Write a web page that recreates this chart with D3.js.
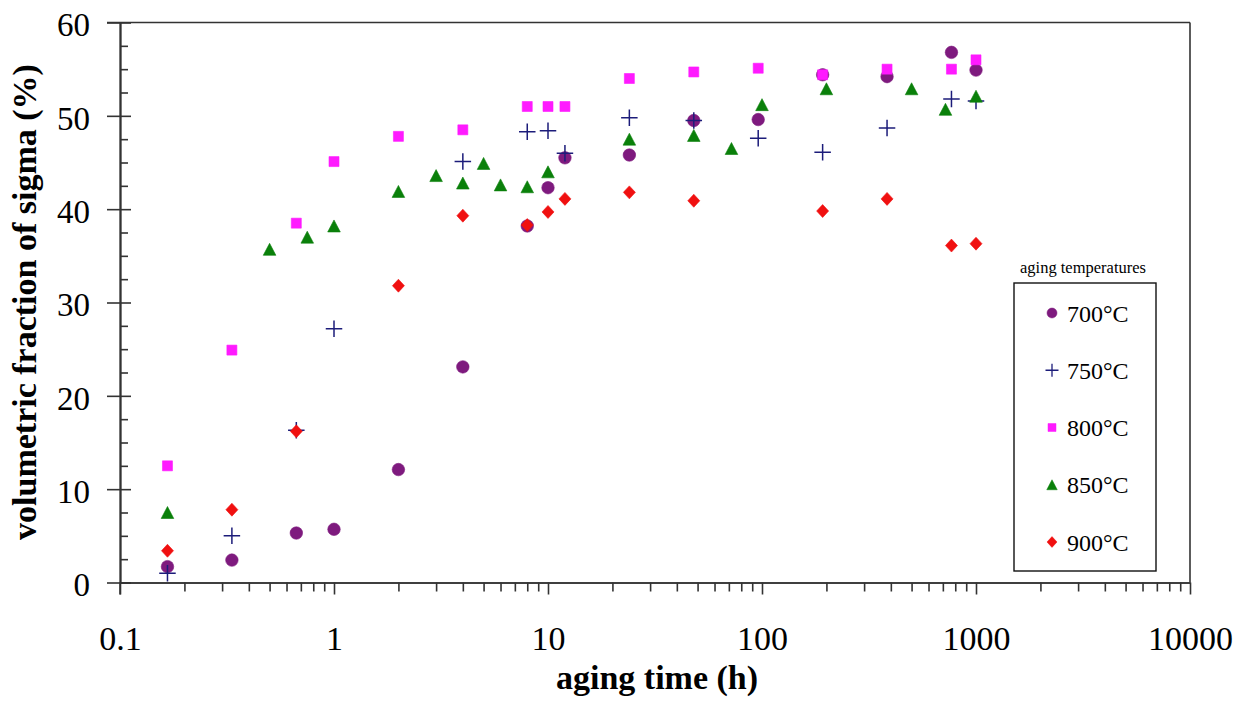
<!DOCTYPE html>
<html>
<head>
<meta charset="utf-8">
<script src="https://cdn.jsdelivr.net/npm/d3@7"></script>
<style>
  html, body { margin: 0; padding: 0; background: #fff; }
  svg { display: block; }
  text { font-family: "Liberation Serif", "Times New Roman", serif; fill: #000; }
</style>
</head>
<body>
<svg id="chart" width="1253" height="704"></svg>
<script>
// ---------- data ----------
const xTickValues = [0.1, 1, 10, 100, 1000, 10000];
const xTickLabels = ["0.1", "1", "10", "100", "1000", "10000"];
const yTickValues = [0, 10, 20, 30, 40, 50, 60];
const yTickLabels = ["0", "10", "20", "30", "40", "50", "60"];

const series700Time  = [1/6, 1/3, 2/3, 1, 2, 4, 8, 10, 12, 24, 48, 96, 192, 384, 768, 1000];
const series700Value = [1.7, 2.4, 5.3, 5.7, 12.1, 23.1, 38.2, 42.3, 45.5, 45.8, 49.5, 49.6, 54.4, 54.2, 56.8, 54.9];

const series750Time  = [1/6, 1/3, 2/3, 1, 4, 8, 10, 12, 24, 48, 96, 192, 384, 768, 1000];
const series750Value = [1.0, 5.0, 16.3, 27.2, 45.1, 48.3, 48.4, 46.0, 49.8, 49.5, 47.6, 46.1, 48.7, 51.8, 51.6];

const series800Time  = [1/6, 1/3, 2/3, 1, 2, 4, 8, 10, 12, 24, 48, 96, 192, 384, 768, 1000];
const series800Value = [12.5, 24.9, 38.5, 45.1, 47.8, 48.5, 51.0, 51.0, 51.0, 54.0, 54.7, 55.1, 54.4, 55.0, 55.0, 56.0];

const series850Time  = [1/6, 0.5, 0.75, 1, 2, 3, 4, 5, 6, 8, 10, 24, 48, 72, 100, 200, 500, 720, 1000];
const series850Value = [7.5, 35.7, 37.0, 38.2, 41.9, 43.6, 42.8, 44.9, 42.6, 42.4, 44.0, 47.5, 47.9, 46.5, 51.2, 52.9, 52.9, 50.7, 52.1];

const series900Time  = [1/6, 1/3, 2/3, 2, 4, 8, 10, 12, 24, 48, 192, 384, 768, 1000];
const series900Value = [3.4, 7.8, 16.2, 31.8, 39.3, 38.3, 39.7, 41.1, 41.8, 40.9, 39.8, 41.1, 36.1, 36.3];

const seriesNames = ["700°C", "750°C", "800°C", "850°C", "900°C"];
const seriesColors = ["#7e1a7e", "#1c1c7a", "#ff1aff", "#0a800a", "#f01010"];

const legendTitle = "aging temperatures";
const xTitle = "aging time (h)";
const yTitle = "volumetric fraction of sigma (%)";

// ---------- setup ----------
const svg = d3.select("#chart");
const pLeft = 120, pRight = 1190, pTop = 22.5, pBottom = 582.5;
const axisColor = "#333";

const x = d3.scaleLog().domain([0.1, 10000]).range([pLeft, pRight]);
const y = d3.scaleLinear().domain([0, 60]).range([pBottom, pTop]);

// ---------- symbols ----------
const plusType = { draw(ctx, size) { const r = Math.sqrt(size) / 2;
  ctx.moveTo(-r, 0); ctx.lineTo(r, 0); ctx.moveTo(0, -r); ctx.lineTo(0, r); } };
const diamondType = { draw(ctx, size) { const r = Math.sqrt(size) / 2;
  ctx.moveTo(0, -r * 1.08); ctx.lineTo(r, 0); ctx.lineTo(0, r * 1.08); ctx.lineTo(-r, 0); ctx.closePath(); } };
const triangleType = { draw(ctx, size) { const r = Math.sqrt(size) / 2;
  ctx.moveTo(0, -r); ctx.lineTo(r * 1.05, r); ctx.lineTo(-r * 1.05, r); ctx.closePath(); } };
const circleType = { draw(ctx, size) { const r = Math.sqrt(size) / 2;
  ctx.moveTo(r, 0); ctx.arc(0, 0, r, 0, 2 * Math.PI); } };
const squareType = { draw(ctx, size) { const r = Math.sqrt(size) / 2;
  ctx.rect(-r, -r, 2 * r, 2 * r); } };

const seriesTypes = [circleType, plusType, squareType, triangleType, diamondType];
const plotSizes = [12.5 * 12.5, 16.5 * 16.5, 10 * 10, 12 * 12, 12 * 12];
const legendSizes = [10 * 10, 13 * 13, 8 * 8, 10 * 10, 10 * 10];

const allSeries = [
  [series700Time, series700Value],
  [series750Time, series750Value],
  [series800Time, series800Value],
  [series850Time, series850Value],
  [series900Time, series900Value]
];

// ---------- axes ----------
const xMinor = [];
for (let e = -1; e < 4; e++) for (let m = 2; m <= 9; m++) xMinor.push(m * Math.pow(10, e));

svg.append("g").attr("transform", `translate(0,${pBottom})`)
  .call(d3.axisBottom(x).tickValues(xMinor).tickSize(9).tickSizeOuter(0).tickFormat(""));
const gx = svg.append("g").attr("transform", `translate(0,${pBottom})`)
  .call(d3.axisBottom(x).tickValues(xTickValues).tickSize(12).tickSizeOuter(0).tickPadding(31)
    .tickFormat((d, i) => xTickLabels[i]));
gx.selectAll("text").style("font-size", "34px");

const yMinor = d3.range(0, 60.01, 2.5).filter(v => v % 10 !== 0);
svg.append("g").attr("transform", `translate(${pLeft},0)`)
  .call(d3.axisRight(y).tickValues(yMinor).tickSize(8).tickSizeOuter(0).tickFormat(""));
svg.append("g").attr("transform", `translate(${pLeft},0)`)
  .call(d3.axisRight(y).tickValues(yTickValues).tickSize(11).tickSizeOuter(0).tickFormat(""));
const gy = svg.append("g").attr("transform", `translate(${pLeft},0)`)
  .call(d3.axisLeft(y).tickValues(yTickValues).tickSize(13).tickSizeOuter(0).tickPadding(17)
    .tickFormat((d, i) => yTickLabels[i]));
gy.selectAll("text").style("font-size", "33px").attr("dy", "0.4em");

svg.selectAll(".domain, .tick line").attr("stroke", axisColor).attr("stroke-width", 1.6);
svg.selectAll(".tick text").attr("fill", "#000").style("font-family", "'Liberation Serif', serif");

svg.append("line").attr("x1", pLeft).attr("x2", pLeft).attr("y1", pBottom).attr("y2", pBottom + 12)
  .attr("stroke", axisColor).attr("stroke-width", 1.6);

svg.append("line").attr("x1", pLeft - 13).attr("x2", pRight).attr("y1", pTop).attr("y2", pTop)
  .attr("stroke", axisColor).attr("stroke-width", 1.6);
svg.append("line").attr("x1", pRight).attr("x2", pRight).attr("y1", pTop).attr("y2", pBottom)
  .attr("stroke", axisColor).attr("stroke-width", 1.6);

// ---------- titles ----------
svg.append("text").attr("x", 657).attr("y", 689).attr("text-anchor", "middle")
  .style("font-size", "34px").style("font-weight", "bold").text(xTitle);
svg.append("text").attr("transform", `translate(36,302) rotate(-90)`).attr("text-anchor", "middle")
  .style("font-size", "34px").style("font-weight", "bold").text(yTitle);

// ---------- points ----------
allSeries.forEach(([ts, vs], si) => {
  const pts = ts.map((t, i) => ({ t, v: vs[i] }));
  const sym = d3.symbol().type(seriesTypes[si]).size(plotSizes[si]);
  svg.append("g").selectAll("path").data(pts).join("path")
    .attr("transform", d => `translate(${x(d.t)},${y(d.v)})`)
    .attr("d", sym)
    .attr("fill", si === 1 ? "none" : seriesColors[si])
    .attr("stroke", seriesColors[si])
    .attr("stroke-width", si === 1 ? 1.5 : 0.6);
});

// ---------- legend ----------
svg.append("text").attr("x", 1083).attr("y", 273).attr("text-anchor", "middle")
  .style("font-size", "16.5px").text(legendTitle);
svg.append("rect").attr("x", 1014).attr("y", 283).attr("width", 142).attr("height", 288)
  .attr("fill", "#fff").attr("stroke", "#111").attr("stroke-width", 1.4);
const legendY = d3.scalePoint().domain(seriesNames).range([313, 542]);
seriesNames.forEach((name, si) => {
  const cy = legendY(name);
  const sym = d3.symbol().type(seriesTypes[si]).size(legendSizes[si]);
  svg.append("path").attr("transform", `translate(1052,${cy})`).attr("d", sym)
    .attr("fill", si === 1 ? "none" : seriesColors[si])
    .attr("stroke", seriesColors[si]).attr("stroke-width", si === 1 ? 1.3 : 0.5);
  svg.append("text").attr("x", 1067).attr("y", cy + 8.5).style("font-size", "24px").text(name);
});
</script>
</body>
</html>
